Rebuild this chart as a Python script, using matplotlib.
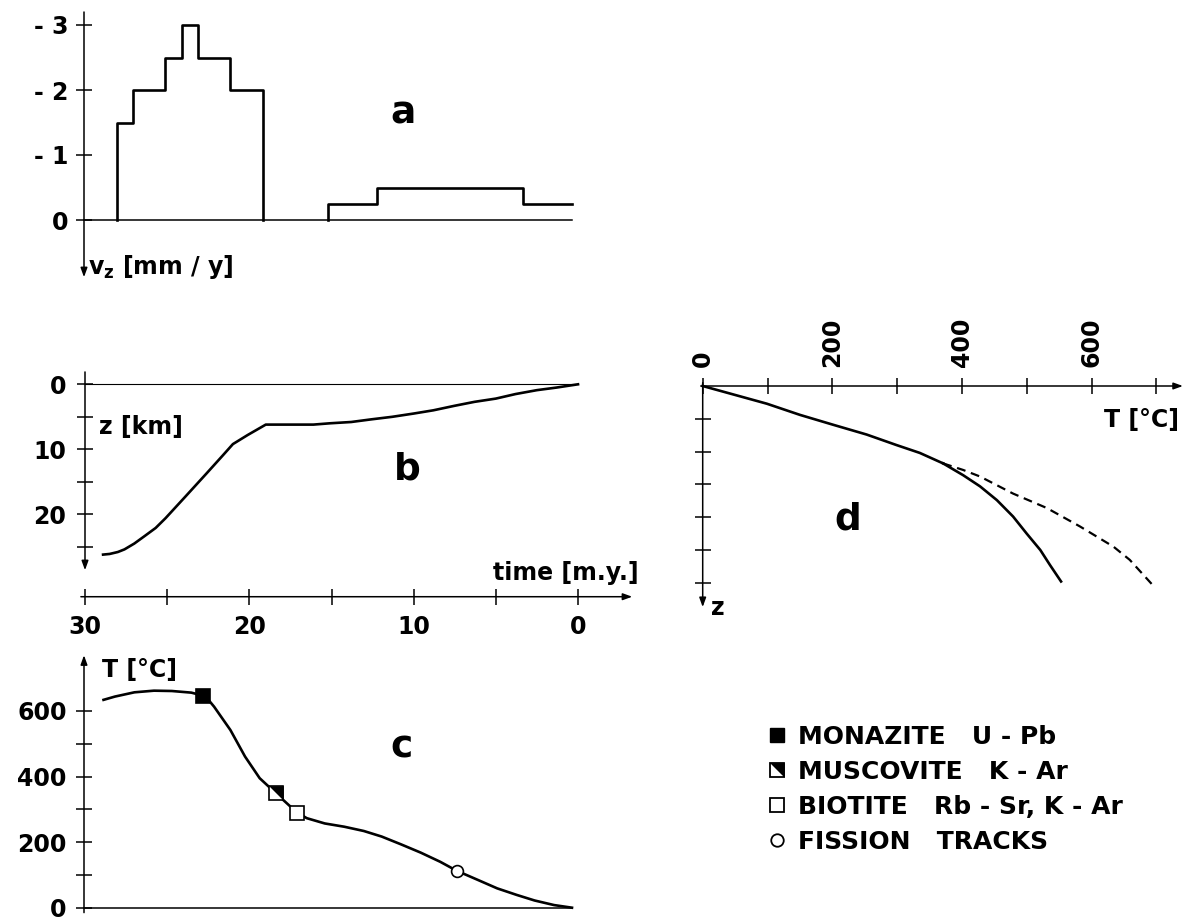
import numpy as np
import matplotlib
matplotlib.use('Agg')
import matplotlib.pyplot as plt
from matplotlib.lines import Line2D

# ---------------- data ----------------
# panel a: vertical velocity steps (time edges in m.y., v_z in mm/y, negative = uplift)
a_block1_edges = [28, 27, 25, 24, 23, 21, 19]
a_block1_vz = [-1.5, -2.0, -2.5, -3.0, -2.5, -2.0]
a_block2_edges = [15, 12, 3, 0]
a_block2_vz = [-0.25, -0.5, -0.25]
a_yticks = [-3, -2, -1, 0]
a_yticklabels = ['- 3', '- 2', '- 1', '0']

# panel b: depth vs time
b_time = [28.9, 28.5, 28.0, 27.6, 27.0, 26.4, 25.7, 25.1, 23.9, 22.6, 21.6, 21.0,
          20.1, 19.0, 16.1, 15.1, 13.8, 12.6, 11.3, 10.0, 8.8, 7.5, 6.3, 5.0,
          3.8, 2.5, 1.3, 0.0]
b_depth = [26.2, 26.1, 25.8, 25.4, 24.5, 23.4, 22.1, 20.6, 17.3, 13.7, 10.9, 9.2,
           7.8, 6.2, 6.2, 6.0, 5.8, 5.4, 5.0, 4.5, 4.0, 3.3, 2.7, 2.2,
           1.5, 0.9, 0.5, 0.0]
b_yticks_major = [0, 10, 20]
b_yticks_minor = [5, 15, 25]
b_xticks_major = [30, 20, 10, 0]
b_xticks_minor = [25, 15, 5]

# panel c: temperature vs time
c_time = [28.8, 28.1, 26.9, 25.7, 24.6, 23.4, 22.7, 22.35, 22.0, 21.0, 20.1, 19.2,
          18.2, 17.3, 16.9, 16.3, 15.2, 14.0, 12.8, 11.7, 10.5, 9.3, 8.1, 7.1,
          5.8, 4.6, 3.4, 2.3, 1.1, 0.0]
c_temp = [634, 644, 657, 662, 661, 656, 647, 634, 613, 542, 461, 395,
          349, 308, 290, 273, 257, 247, 234, 217, 193, 168, 140, 113,
          85, 59, 39, 22, 8, 0]
c_yticks_major = [0, 200, 400, 600]
c_yticks_minor = [100, 300, 500]

# mineral cooling ages
mineral_labels = ['MONAZITE   U - Pb', 'MUSCOVITE   K - Ar',
                  'BIOTITE   Rb - Sr, K - Ar', 'FISSION   TRACKS']
mineral_time = [22.7, 18.2, 16.9, 7.1]
mineral_temp = [647, 350, 290, 113]

# panel d: geotherms
d_temp_shared = [0, 99, 150, 201, 253, 299, 335, 371]
d_depth_shared = [0, 2.7, 4.4, 5.9, 7.4, 9.0, 10.2, 11.8]
d_temp_solid = [371, 402, 428, 454, 479, 500, 521, 536, 553]
d_depth_solid = [11.8, 13.6, 15.3, 17.4, 19.9, 22.5, 25.0, 27.3, 29.8]
d_temp_dashed = [371, 402, 428, 479, 531, 582, 634, 659, 694]
d_depth_dashed = [11.8, 12.8, 13.8, 16.4, 18.6, 21.4, 24.5, 26.5, 30.3]
d_xticks_major = [0, 200, 400, 600]
d_xticks_minor = [100, 300, 500, 700]
d_yticks = [5, 10, 15, 20, 25, 30]

# ---------------- style ----------------
plt.rcParams['font.family'] = ['DejaVu Sans']
plt.rcParams['font.weight'] = 'bold'
plt.rcParams['mathtext.fontset'] = 'dejavusans'
plt.rcParams['mathtext.default'] = 'bf'
W, H = 1187, 917
fig = plt.figure(figsize=(W / 100, H / 100), dpi=100)
fig.patch.set_facecolor('white')

LW_AX = 1.1
LW_C = 1.9
TICK_FS = 17
LAB_FS = 17
BIG_FS = 27


def panel(box, xa, ya):
    x0, y0, x1, y1 = box
    ax = fig.add_axes([x0 / W, 1 - y1 / H, (x1 - x0) / W, (y1 - y0) / H])
    (d1, p1), (d2, p2) = xa
    fx = lambda p: d1 + (p - p1) * (d2 - d1) / (p2 - p1)
    (e1, q1), (e2, q2) = ya
    fy = lambda q: e1 + (q - q1) * (e2 - e1) / (q2 - q1)
    ax.set_xlim(fx(x0), fx(x1))
    ax.set_ylim(fy(y1), fy(y0))
    ax.patch.set_alpha(0)
    for s in ax.spines.values():
        s.set_visible(False)
    ax.set_xticks([])
    ax.set_yticks([])
    return ax


def arrow(ax, start, tip, head=True):
    if head:
        ax.annotate('', xy=tip, xytext=start,
                    arrowprops=dict(arrowstyle='-|>,head_length=0.55,head_width=0.2',
                                    lw=LW_AX, color='black', shrinkA=0, shrinkB=0))
    else:
        ax.plot([start[0], tip[0]], [start[1], tip[1]], color='black', lw=LW_AX)


def ftext(px, py, s, **kw):
    fig.text(px / W, 1 - py / H, s, **kw)


# ---------------- panel a ----------------
axa = panel((20, 0, 600, 300), ((30, 84), (0, 572)), ((0, 220), (-3, 25)))
x1 = np.r_[a_block1_edges[0], a_block1_edges]
y1 = np.r_[0, a_block1_vz, 0]
axa.step(x1, y1, where='post', color='black', lw=LW_C)
x2 = np.r_[a_block2_edges[0], a_block2_edges]
y2 = np.r_[0, a_block2_vz, a_block2_vz[-1]]
axa.step(x2, y2, where='post', color='black', lw=LW_C)
arrow(axa, (30, -3.2), (30, 0.88))
arrow(axa, (30, 0), (0, 0), head=False)
axa.spines['left'].set_position(('data', 30))
axa.set_yticks(a_yticks)
axa.set_yticklabels(a_yticklabels)
axa.tick_params(axis='y', direction='inout', length=11, width=LW_AX, pad=6,
                labelsize=TICK_FS)
ftext(403, 113, 'a', fontsize=BIG_FS, fontweight='bold', ha='center', va='center')
ftext(88, 267, r'v$_{\mathbf{z}}$ [mm / y]', fontsize=LAB_FS, ha='left', va='center')

# ---------------- panel b ----------------
axb = panel((20, 300, 660, 650), ((30, 85), (0, 578)), ((0, 384.3), (10, 449.3)))
axb.plot(b_time, b_depth, color='black', lw=LW_C)
axb.plot([30, 0], [0, 0], color='black', lw=0.8)
arrow(axb, (30, -1.9), (30, 28.6))
arrow(axb, (30.25, 32.68), (-3.3, 32.68))
axb.spines['left'].set_position(('data', 30))
axb.spines['bottom'].set_position(('data', 32.68))
axb.set_yticks(b_yticks_major)
axb.set_yticks(b_yticks_minor, minor=True)
axb.set_xticks(b_xticks_major)
axb.set_xticks(b_xticks_minor, minor=True)
axb.tick_params(axis='both', which='both', direction='inout', length=11,
                width=LW_AX, labelsize=TICK_FS)
axb.tick_params(axis='y', which='major', pad=8)
axb.tick_params(axis='x', which='major', pad=8)
ftext(99, 427, 'z [km]', fontsize=LAB_FS, ha='left', va='center')
ftext(407, 470, 'b', fontsize=BIG_FS, fontweight='bold', ha='center', va='center')
ftext(639, 573, 'time [m.y.]', fontsize=LAB_FS, ha='right', va='center')

# ---------------- panel c ----------------
axc = panel((20, 640, 600, 917), ((30, 84), (0, 572)), ((0, 907.7), (600, 711)))
axc.plot(c_time, c_temp, color='black', lw=LW_C, zorder=2)
arrow(axc, (30, -15), (30, 770))
arrow(axc, (30, 0), (0, 0), head=False)
axc.spines['left'].set_position(('data', 30))
axc.set_yticks(c_yticks_major)
axc.set_yticks(c_yticks_minor, minor=True)
axc.tick_params(axis='y', which='both', direction='inout', length=11,
                width=LW_AX, labelsize=TICK_FS, pad=7)
tri = [(-1, 1), (1, 1), (1, -1)]
MS = 9.5
axc.plot(mineral_time[0], mineral_temp[0], marker='s', ms=MS, mfc='black',
         mec='black', mew=1.2, ls='none', zorder=3)
axc.plot(mineral_time[1], mineral_temp[1], marker='s', ms=MS, mfc='white',
         mec='black', mew=1.2, ls='none', zorder=3)
axc.plot(mineral_time[1], mineral_temp[1], marker=tri, ms=MS, mfc='black',
         mec='black', mew=0.5, ls='none', zorder=4)
axc.plot(mineral_time[2], mineral_temp[2], marker='s', ms=MS, mfc='white',
         mec='black', mew=1.2, ls='none', zorder=3)
axc.plot(mineral_time[3], mineral_temp[3], marker='o', ms=8.5, mfc='white',
         mec='black', mew=1.2, ls='none', zorder=3)
ftext(102, 670, 'T [°C]', fontsize=LAB_FS, ha='left', va='center')
ftext(402, 747, 'c', fontsize=BIG_FS, fontweight='bold', ha='center', va='center')

# legend
h_mon = Line2D([], [], marker='s', ms=10, mfc='black', mec='black', ls='none')
h_mus_a = Line2D([], [], marker='s', ms=10, mfc='white', mec='black', mew=1.3, ls='none')
h_mus_b = Line2D([], [], marker=tri, ms=10, mfc='black', mec='black', mew=0.5, ls='none')
h_bio = Line2D([], [], marker='s', ms=10, mfc='white', mec='black', mew=1.3, ls='none')
h_fis = Line2D([], [], marker='o', ms=9, mfc='white', mec='black', mew=1.3, ls='none')
fig.legend([h_mon, (h_mus_a, h_mus_b), h_bio, h_fis], mineral_labels,
           loc='upper left', bbox_to_anchor=(767 / W, 1 - 725 / H),
           frameon=False, prop={'size': 18, 'weight': 'bold'}, handlelength=0.8,
           handletextpad=0.44, labelspacing=0.44, borderpad=0, borderaxespad=0)

# ---------------- panel d ----------------
axd = panel((660, 300, 1187, 640), ((0, 702.7), (200, 832.3)), ((0, 386), (5, 418.8)))
axd.plot(d_temp_shared, d_depth_shared, color='black', lw=LW_C)
axd.plot(d_temp_solid, d_depth_solid, color='black', lw=LW_C)
axd.plot(d_temp_dashed, d_depth_dashed, color='black', lw=1.6, ls=(0, (4, 2.6)))
arrow(axd, (-3, 0), (741, 0))
arrow(axd, (0, -0.5), (0, 33.7))
axd.spines['top'].set_position(('data', 0))
axd.spines['left'].set_position(('data', 0))
axd.xaxis.set_ticks_position('top')
axd.set_xticks(d_xticks_major)
axd.set_xticks(d_xticks_minor, minor=True)
axd.set_yticks(d_yticks)
axd.set_yticklabels([])
axd.tick_params(axis='both', which='both', direction='inout', length=11,
                width=LW_AX, labelsize=TICK_FS)
axd.tick_params(axis='x', which='major', pad=8, labelrotation=90)
ftext(1179, 420, 'T [°C]', fontsize=LAB_FS, ha='right', va='center')
ftext(848, 520, 'd', fontsize=BIG_FS, fontweight='bold', ha='center', va='center')
ftext(711, 608, 'z', fontsize=LAB_FS, ha='left', va='center')

fig.savefig('out.png', dpi=100, facecolor='white')
